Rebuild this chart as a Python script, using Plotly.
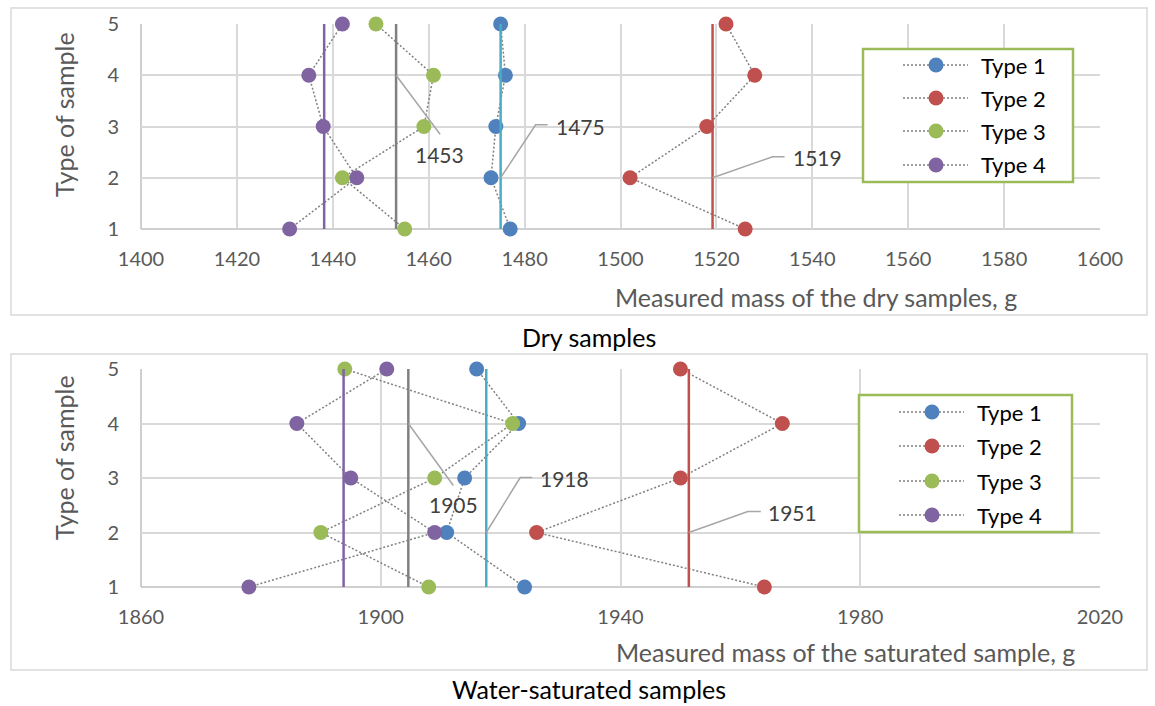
import plotly.graph_objects as go

# ---------------- data ----------------
sample_types = [1, 2, 3, 4, 5]
series_names = ["Type 1", "Type 2", "Type 3", "Type 4"]

dry_type1 = [1477, 1473, 1474, 1476, 1475]
dry_type2 = [1526, 1502, 1518, 1528, 1522]
dry_type3 = [1455, 1442, 1459, 1461, 1449]
dry_type4 = [1431, 1445, 1438, 1435, 1442]

sat_type1 = [1924, 1911, 1914, 1923, 1916]
sat_type2 = [1964, 1926, 1950, 1967, 1950]
sat_type3 = [1908, 1890, 1909, 1922, 1894]
sat_type4 = [1878, 1909, 1895, 1886, 1901]

dry_x_ticks = [1400, 1420, 1440, 1460, 1480, 1500, 1520, 1540, 1560, 1580, 1600]
sat_x_ticks = [1860, 1900, 1940, 1980, 2020]
y_ticks = [1, 2, 3, 4, 5]

# ---------------- styles ----------------
W, H = 1155, 706
FONT = "Lato"
marker_colors = ["#4F81BD", "#C0504D", "#9BBB59", "#8064A2"]
mean_colors = ["#4BACC6", "#C0504D", "#808080", "#8064A2"]
tick_color = "#595959"
grid_color = "#D9D9D9"
axis_color = "#BFBFBF"
DOTS = "2px,2px"

fig = go.Figure()

def px_x(px):
    return px / W

def px_y(py):
    return 1 - py / H

panels = [
    dict(xaxis="x", yaxis="y", data=[dry_type1, dry_type2, dry_type3, dry_type4],
         xr=[1400, 1600], ticks=dry_x_ticks, left=141, right=1100, top=24, bottom=229,
         legend_box=(863, 49, 1073, 182), legend_rows=[65, 98, 131, 165],
         labels=[(2, 4, [(0, 0), (44, 59)], (43, 79)),
                 (0, 2, [(0, 0), (35, -53), (47, -53)], (80, -51)),
                 (1, 2, [(0, 0), (60, -21), (72, -21)], (105, -20))]),
    dict(xaxis="x2", yaxis="y2", data=[sat_type1, sat_type2, sat_type3, sat_type4],
         xr=[1860, 2020], ticks=sat_x_ticks, left=141, right=1100, top=369, bottom=587,
         legend_box=(859, 395, 1072, 532), legend_rows=[412, 446, 481, 515],
         labels=[(2, 4, [(0, 0), (45, 62)], (45, 81)),
                 (0, 2, [(0, 0), (34, -55), (46, -55)], (78, -54)),
                 (1, 2, [(0, 0), (59, -21), (72, -21)], (104, -20))]),
]

shapes = []
annotations = []

def label(text, x, y, size, color, xanchor="center", angle=0):
    annotations.append(dict(text=text, x=px_x(x), y=px_y(y), xref="paper", yref="paper",
                            xanchor=xanchor, yanchor="middle", showarrow=False,
                            textangle=angle, font=dict(family=FONT, size=size, color=color)))

for p in panels:
    xr = p["xr"]
    ppu_x = (p["right"] - p["left"]) / (xr[1] - xr[0])
    ppu_y = (p["bottom"] - p["top"]) / 4.0
    means = [sum(d) / len(d) for d in p["data"]]
    # series (dotted grey lines, coloured markers)
    for i, d in enumerate(p["data"]):
        fig.add_trace(go.Scatter(
            x=d, y=sample_types, mode="lines+markers", name=series_names[i],
            line=dict(color="#808080", width=1.5, dash=DOTS),
            marker=dict(color=marker_colors[i], size=15),
            xaxis=p["xaxis"], yaxis=p["yaxis"], cliponaxis=False, showlegend=False,
        ))
    # mean lines
    for i, m in enumerate(means):
        fig.add_trace(go.Scatter(
            x=[m, m], y=[1, 5], mode="lines",
            line=dict(color=mean_colors[i], width=2.5),
            xaxis=p["xaxis"], yaxis=p["yaxis"], showlegend=False, hoverinfo="skip",
            cliponaxis=False,
        ))
    # data labels with leader lines
    for (si, ay, offs, toff) in p["labels"]:
        m = means[si]
        pts = [(m + dx / ppu_x, ay - dy / ppu_y) for dx, dy in offs]
        path = "M " + " L ".join(f"{x},{y}" for x, y in pts)
        shapes.append(dict(type="path", path=path, xref=p["xaxis"], yref=p["yaxis"],
                           line=dict(color="#A6A6A6", width=1.5)))
        annotations.append(dict(
            x=m + toff[0] / ppu_x, y=ay - toff[1] / ppu_y, xref=p["xaxis"], yref=p["yaxis"],
            xanchor="center", yanchor="middle",
            text=f"{round(m)}", showarrow=False,
            font=dict(family=FONT, size=21, color="#404040"),
        ))
    # legend (drawn box, dotted line samples, markers, labels)
    bx0, by0, bx1, by1 = p["legend_box"]
    shapes.append(dict(type="rect", xref="paper", yref="paper",
                       x0=px_x(bx0), x1=px_x(bx1), y0=px_y(by1), y1=px_y(by0),
                       line=dict(color="#9BBB59", width=2.5), fillcolor="#FFFFFF"))
    for i, ry in enumerate(p["legend_rows"]):
        shapes.append(dict(type="line", xref="paper", yref="paper",
                           x0=px_x(bx0 + 40), x1=px_x(bx0 + 105), y0=px_y(ry), y1=px_y(ry),
                           line=dict(color="#808080", width=1.5, dash=DOTS)))
        shapes.append(dict(type="circle", xref="paper", yref="paper",
                           xsizemode="pixel", ysizemode="pixel",
                           xanchor=px_x(bx0 + 73), yanchor=px_y(ry),
                           x0=-7.5, x1=7.5, y0=-7.5, y1=7.5,
                           fillcolor=marker_colors[i], line=dict(width=0)))
        label(series_names[i], bx0 + 116, ry, 22, "#000000", xanchor="left")

# outer chart boxes
for (x0, y0, x1, y1) in [(11, 8, 1147, 315), (11, 354, 1147, 670)]:
    shapes.append(dict(type="rect", xref="paper", yref="paper",
                       x0=px_x(x0), x1=px_x(x1), y0=px_y(y1), y1=px_y(y0),
                       line=dict(color="#D9D9D9", width=1.5), layer="below"))

# captions
label("Dry samples", 589, 337, 25, "#000000")
label("Water-saturated samples", 589, 689, 25, "#000000")
# x-axis titles
label("Measured mass of the dry samples, g", 816, 297, 25, tick_color)
label("Measured mass of the saturated sample, g", 845, 652, 25, tick_color)
# y-axis titles
for yc in [115, 458]:
    label("Type of sample", 64, yc, 25, tick_color, angle=-90)

def xaxis_cfg(p):
    return dict(range=p["xr"], tickvals=p["ticks"], showgrid=True, gridcolor=grid_color,
                gridwidth=1.5, zeroline=False, showline=False, automargin=False,
                anchor=p["yaxis"],
                tickfont=dict(family=FONT, size=20, color=tick_color),
                domain=[px_x(p["left"]), px_x(p["right"])],
                ticks="", ticklabelstandoff=16, fixedrange=True)

def yaxis_cfg(p):
    return dict(range=[1, 5], tickvals=y_ticks, showgrid=True, gridcolor=grid_color,
                gridwidth=1.5, zeroline=False, showline=False, automargin=False,
                anchor=p["xaxis"],
                tickfont=dict(family=FONT, size=20, color=tick_color),
                domain=[px_y(p["bottom"]), px_y(p["top"])],
                ticks="", ticklabelstandoff=21, fixedrange=True)

# axis lines (left and bottom of each plot area)
for p in panels:
    shapes.append(dict(type="line", xref="paper", yref="paper",
                       x0=px_x(p["left"]), x1=px_x(p["left"]),
                       y0=px_y(p["bottom"]), y1=px_y(p["top"]),
                       line=dict(color=axis_color, width=1.5), layer="below"))
    shapes.append(dict(type="line", xref="paper", yref="paper",
                       x0=px_x(p["left"]), x1=px_x(p["right"]),
                       y0=px_y(p["bottom"]), y1=px_y(p["bottom"]),
                       line=dict(color=axis_color, width=1.5), layer="below"))

fig.update_layout(
    width=W, height=H, margin=dict(l=0, r=0, t=0, b=0, pad=0), autosize=False,
    paper_bgcolor="#FFFFFF", plot_bgcolor="#FFFFFF",
    xaxis=xaxis_cfg(panels[0]), yaxis=yaxis_cfg(panels[0]),
    xaxis2=xaxis_cfg(panels[1]), yaxis2=yaxis_cfg(panels[1]),
    shapes=shapes, annotations=annotations, showlegend=False,
)

fig.write_html("out.html", config={"displayModeBar": False},
               post_script="document.body.style.margin='0';")
